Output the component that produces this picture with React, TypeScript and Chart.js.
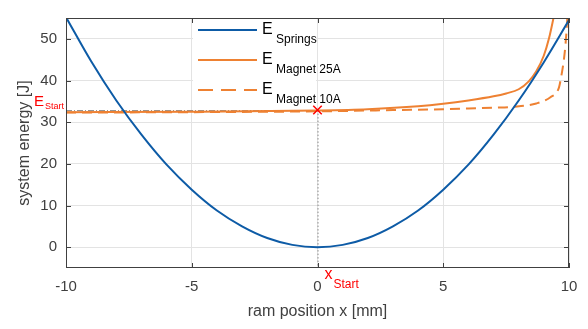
import React, { useEffect, useRef } from 'react';
import { Chart, registerables } from 'chart.js';

Chart.register(...registerables);

// ---- data ----
const xTicks = [-10, -5, 0, 5, 10];
const yTicks = [0, 10, 20, 30, 40, 50];

const springX = [-10, -9, -8, -7, -6, -5, -4, -3, -2, -1, 0, 1, 2, 3, 4, 5, 6, 7, 8, 9, 10];
const springY = [55.2, 44.6, 35.2, 27, 19.8, 13.8, 8.8, 5, 2.2, 0.55, 0, 0.55, 2.2, 5, 8.8, 13.8, 19.8, 27, 35.2, 44.4, 54.5];

const mag25X = [-10, -5, 0, 2, 4, 5, 6, 7, 7.5, 8, 8.4, 8.7, 9.0, 9.2, 9.4, 9.6];
const mag25Y = [32.4, 32.5, 32.8, 33.1, 33.8, 34.4, 35.2, 36.2, 36.9, 37.9, 39.8, 42.2, 46, 50, 55.5, 62];

const mag10X = [-10, -5, 0, 3, 5, 6, 7, 7.8, 8.7, 9.26, 9.6, 9.69, 9.79, 9.86, 9.93, 9.97];
const mag10Y = [32.3, 32.4, 32.6, 32.9, 33.1, 33.3, 33.5, 33.7, 34.5, 36, 38.3, 40.9, 44.7, 48.6, 54.6, 60];

const startX = [0];
const startY = [32.9];

const legendLabels = ['Springs', 'Magnet 25A', 'Magnet 10A'];

const BLUE = '#0d5ba6';
const ORANGE = '#ee8132';
const RED = '#ff0000';
const TEXT = '#404040';
const FONT = '"Liberation Sans", Arial, sans-serif';

function pts(xs: number[], ys: number[]) {
  return xs.map((x, i) => ({ x, y: ys[i] }));
}

const overlay = {
  id: 'overlay',
  beforeDatasetsDraw(chart: any) {
    const { ctx, chartArea: a, scales } = chart;
    const xs = scales.x, ys = scales.y;
    const px = xs.getPixelForValue(startX[0]);
    const py = ys.getPixelForValue(startY[0]);
    ctx.save();
    ctx.strokeStyle = '#8a8a8a';
    ctx.lineWidth = 1;
    ctx.setLineDash([6, 2, 1, 2]);
    ctx.beginPath();
    ctx.moveTo(a.left, py + 0.5);
    ctx.lineTo(px, py + 0.5);
    ctx.stroke();
    ctx.setLineDash([1.5, 2]);
    ctx.beginPath();
    ctx.moveTo(px + 0.5, py);
    ctx.lineTo(px + 0.5, a.bottom);
    ctx.stroke();
    ctx.restore();
  },
  afterDatasetsDraw(chart: any) {
    const { ctx, chartArea: a, scales } = chart;
    const xs = scales.x, ys = scales.y;
    ctx.save();
    // box
    ctx.strokeStyle = TEXT;
    ctx.lineWidth = 1;
    ctx.setLineDash([]);
    ctx.strokeRect(a.left + 0.5, a.top + 0.5, a.right - a.left - 1, a.bottom - a.top - 1);
    // inward ticks
    const tl = 5;
    ctx.beginPath();
    xTicks.forEach((v) => {
      const x = Math.round(xs.getPixelForValue(v)) + 0.5;
      ctx.moveTo(x, a.bottom);
      ctx.lineTo(x, a.bottom - tl);
      ctx.moveTo(x, a.top);
      ctx.lineTo(x, a.top + tl);
    });
    yTicks.forEach((v) => {
      const y = Math.round(ys.getPixelForValue(v)) + 0.5;
      ctx.moveTo(a.left, y);
      ctx.lineTo(a.left + tl, y);
      ctx.moveTo(a.right, y);
      ctx.lineTo(a.right - tl, y);
    });
    ctx.stroke();

    // legend
    const lx0 = 193;
    ctx.fillStyle = '#ffffff';
    ctx.fillRect(lx0, a.top + 1, 316 - lx0, 86);
    const colors = [BLUE, ORANGE, ORANGE];
    const dashes = [[], [], [15, 8]];
    legendLabels.forEach((lab, i) => {
      const ly = a.top + 12 + i * 30;
      ctx.strokeStyle = colors[i];
      ctx.lineWidth = 2;
      ctx.setLineDash(dashes[i]);
      ctx.beginPath();
      ctx.moveTo(198, ly);
      ctx.lineTo(257, ly);
      ctx.stroke();
      ctx.setLineDash([]);
      ctx.fillStyle = '#000000';
      ctx.textAlign = 'left';
      ctx.textBaseline = 'alphabetic';
      ctx.font = `16px ${FONT}`;
      ctx.fillText('E', 262, ly + 4);
      ctx.font = `12px ${FONT}`;
      ctx.fillText(lab, 276, ly + 12.5);
    });

    // E_Start label
    const py = ys.getPixelForValue(startY[0]);
    const px = xs.getPixelForValue(startX[0]);
    ctx.fillStyle = RED;
    ctx.font = `15px ${FONT}`;
    ctx.fillText('E', 34, py - 4);
    ctx.font = `9px ${FONT}`;
    ctx.fillText('Start', 45, py - 1.5);

    // x_Start label
    ctx.font = `16px ${FONT}`;
    ctx.fillText('x', px + 7, a.bottom + 11);
    ctx.font = `12px ${FONT}`;
    ctx.fillText('Start', px + 16, a.bottom + 20);

    // axis titles
    ctx.fillStyle = TEXT;
    ctx.font = `16px ${FONT}`;
    ctx.textAlign = 'center';
    ctx.fillText('ram position x [mm]', (a.left + a.right) / 2, 316);
    ctx.translate(29, (a.top + a.bottom) / 2);
    ctx.rotate(-Math.PI / 2);
    ctx.fillText('system energy [J]', 0, 0);
    ctx.restore();
  },
};

export default function App() {
  const ref = useRef<HTMLCanvasElement | null>(null);
  useEffect(() => {
    if (!ref.current) return;
    const chart = new Chart(ref.current, {
      type: 'line',
      data: {
        datasets: [
          {
            label: 'Start',
            data: pts(startX, startY),
            showLine: false,
            pointStyle: 'crossRot',
            pointRadius: 6,
            borderColor: RED,
            pointBorderWidth: 1.5,
            backgroundColor: RED,
          },
          {
            label: 'E Springs',
            data: pts(springX, springY),
            borderColor: BLUE,
            borderWidth: 2,
            pointRadius: 0,
            cubicInterpolationMode: 'monotone',
          },
          {
            label: 'E Magnet 25A',
            data: pts(mag25X, mag25Y),
            borderColor: ORANGE,
            borderWidth: 2,
            pointRadius: 0,
            cubicInterpolationMode: 'monotone',
          },
          {
            label: 'E Magnet 10A',
            data: pts(mag10X, mag10Y),
            borderColor: ORANGE,
            borderWidth: 2,
            borderDash: [10, 6],
            pointRadius: 0,
            cubicInterpolationMode: 'monotone',
          },
        ],
      },
      options: {
        animation: false,
        responsive: false,
        devicePixelRatio: 1,
        layout: { padding: { top: 5, right: 19, left: 0, bottom: 0 } },
        plugins: { legend: { display: false }, tooltip: { enabled: false } },
        scales: {
          x: {
            type: 'linear',
            min: -10,
            max: 10,
            afterBuildTicks: (s: any) => {
              s.ticks = xTicks.map((v) => ({ value: v }));
            },
            afterFit: (s: any) => {
              s.height = 61;
            },
            ticks: { font: { size: 15, family: FONT }, color: TEXT, padding: 10, maxRotation: 0 },
            grid: { color: '#e3e3e3', drawTicks: false },
            border: { display: false },
          },
          y: {
            type: 'linear',
            min: -5,
            max: 55,
            afterBuildTicks: (s: any) => {
              s.ticks = yTicks.map((v) => ({ value: v }));
            },
            afterFit: (s: any) => {
              s.width = 66;
            },
            ticks: { font: { size: 15, family: FONT }, color: TEXT, padding: 9 },
            grid: { color: '#e3e3e3', drawTicks: false },
            border: { display: false },
          },
        },
      },
      plugins: [overlay],
    } as any);
    return () => chart.destroy();
  }, []);
  return (
    <div style={{ position: 'fixed', left: 0, top: 0, width: 588, height: 329, background: '#fff' }}>
      <canvas ref={ref} width={588} height={329} style={{ display: 'block' }} />
    </div>
  );
}
